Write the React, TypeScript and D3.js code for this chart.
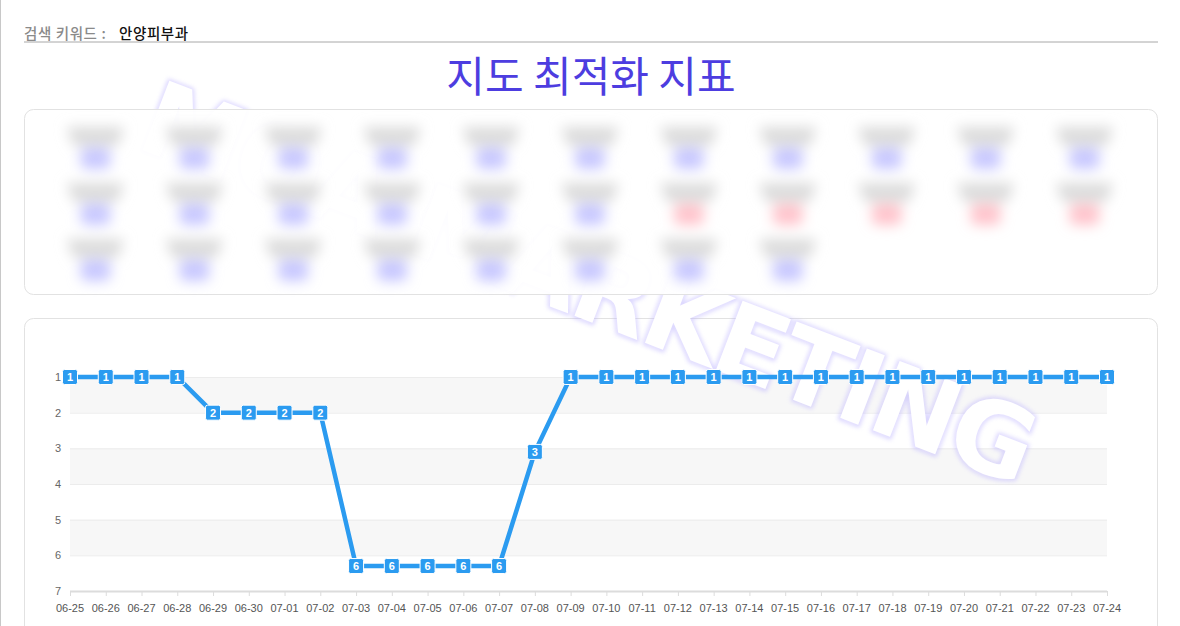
import React from 'react';
import * as d3 from 'd3';

const dates = [
  '06-25', '06-26', '06-27', '06-28', '06-29', '06-30', '07-01', '07-02', '07-03', '07-04',
  '07-05', '07-06', '07-07', '07-08', '07-09', '07-10', '07-11', '07-12', '07-13', '07-14',
  '07-15', '07-16', '07-17', '07-18', '07-19', '07-20', '07-21', '07-22', '07-23', '07-24',
];
const rankValues = [
  1, 1, 1, 1, 2, 2, 2, 2, 6.3, 6.3,
  6.3, 6.3, 6.3, 3.1, 1, 1, 1, 1, 1, 1,
  1, 1, 1, 1, 1, 1, 1, 1, 1, 1,
];
const rankLabels = [
  1, 1, 1, 1, 2, 2, 2, 2, 6, 6,
  6, 6, 6, 3, 1, 1, 1, 1, 1, 1,
  1, 1, 1, 1, 1, 1, 1, 1, 1, 1,
];
const yTicks = [1, 2, 3, 4, 5, 6, 7];
const summaryRows = [
  ['up', 'up', 'up', 'up', 'up', 'up', 'up', 'up', 'up', 'up', 'up'],
  ['up', 'up', 'up', 'up', 'up', 'up', 'down', 'down', 'down', 'down', 'down'],
  ['up', 'up', 'up', 'up', 'up', 'up', 'up', 'up'],
];
const keywordLabel = '검색 키워드 :';
const keyword = '안양피부과';
const title = '지도 최적화 지표';
const watermark = 'MOA MARKETING';

const W = 1180;
const H = 626;
const plot = { left: 70, right: 1107, top: 377, bottom: 591 };
const lineColor = '#2b9bf0';

export default function App() {
  const x = d3.scalePoint<string>().domain(dates).range([plot.left, plot.right]);
  const y = d3.scaleLinear().domain([1, 7]).range([plot.top, plot.bottom]);
  const line = d3
    .line<number>()
    .x((_, i) => x(dates[i]) as number)
    .y((d) => y(d));

  const col = d3
    .scaleBand<number>()
    .domain(d3.range(11))
    .range([46, 1134]);
  const rowY = d3.scalePoint<number>().domain([0, 1, 2]).range([127, 239]);

  const bands = yTicks.slice(0, -1).filter((_, i) => i % 2 === 0);

  return (
    <div style={{ position: 'absolute', left: 0, top: 0, width: W, height: H, overflow: 'hidden' }}>
      <svg width={W} height={H} style={{ display: 'block' }}>
        <defs>
          <filter id="blurItem" x="-50%" y="-50%" width="200%" height="200%">
            <feGaussianBlur stdDeviation="6.5" />
          </filter>
          <filter id="wmGlow" x="-10%" y="-30%" width="120%" height="160%">
            <feGaussianBlur stdDeviation="2" />
          </filter>
        </defs>
        <rect x={0} y={0} width={W} height={H} fill="#fff" />
        <line x1={0.5} y1={0} x2={0.5} y2={H} stroke="#c8c8c8" />

        {/* header */}
        <text x={24} y={39} fontFamily="'Noto Sans CJK KR', sans-serif" fontSize={14.5} letterSpacing={0.6} fill="#8a8a8a" fontWeight={500}>
          {keywordLabel}
        </text>
        <text x={119} y={39} fontFamily="'Noto Sans CJK KR', sans-serif" fontSize={14.5} letterSpacing={0.6} fill="#111" fontWeight={500}>
          {keyword}
        </text>
        <line x1={24} y1={42} x2={1158} y2={42} stroke="#a8a8a8" strokeWidth={1} />

        <text
          x={591}
          y={92}
          textAnchor="middle"
          fontFamily="'Noto Sans CJK KR', sans-serif"
          fontSize={42}
          fill="#4d3de0"
        >
          {title}
        </text>

        {/* chart card */}
        <rect x={24.5} y={318.5} width={1133} height={340} rx={9} fill="#fff" stroke="#e2e2e2" />
        {bands.map((b) => (
          <rect key={b} x={plot.left} y={y(b)} width={plot.right - plot.left} height={y(b + 1) - y(b)} fill="#f7f7f7" />
        ))}
        {yTicks.slice(0, -1).map((t) => (
          <line key={t} x1={plot.left} x2={plot.right} y1={y(t) + 0.5} y2={y(t) + 0.5} stroke="#ececec" />
        ))}

        {/* watermark */}
        <g transform="translate(588,283) rotate(21)">
          <text
            textAnchor="middle"
            dominantBaseline="central"
            fontFamily="'DejaVu Sans', sans-serif"
            fontWeight="bold"
            fontSize={102}
            letterSpacing={-3}
            fill="none"
            stroke="#b8aeff"
            strokeWidth={4}
            filter="url(#wmGlow)"
            opacity={0.55}
          >
            {watermark}
          </text>
          <text
            textAnchor="middle"
            dominantBaseline="central"
            fontFamily="'DejaVu Sans', sans-serif"
            fontWeight="bold"
            fontSize={102}
            letterSpacing={-3}
            fill="#fff"
          >
            {watermark}
          </text>
        </g>

        {/* summary card */}
        <rect x={24.5} y={109.5} width={1133} height={185} rx={9} fill="#fff" fillOpacity={0.93} stroke="#e2e2e2" />
        <g filter="url(#blurItem)">
          {summaryRows.map((row, r) =>
            row.map((s, c) => {
              const cx = (col(c) as number) + col.bandwidth() / 2;
              const ty = rowY(r) as number;
              return (
                <g key={`${r}-${c}`}>
                  <path
                    d={`M${cx - 29},${ty} L${cx + 29},${ty} L${cx + 22},${ty + 19} L${cx - 22},${ty + 19} Z`}
                    fill="#dcdcdc"
                  />
                  <rect x={cx - 15} y={ty + 21} width={30} height={21} rx={6} fill={s === 'up' ? '#c8c8ff' : '#ffc4cc'} />
                </g>
              );
            })
          )}
        </g>

        {/* axes */}
        {yTicks.map((t) => (
          <text
            key={t}
            x={61}
            y={y(t) + 4}
            textAnchor="end"
            fontFamily="'Liberation Sans', Arial, sans-serif"
            fontSize={11}
            fill="#666"
          >
            {t}
          </text>
        ))}
        <line x1={plot.left} x2={plot.right} y1={plot.bottom + 0.5} y2={plot.bottom + 0.5} stroke="#dcdcdc" strokeWidth={2} />
        {dates.map((d) => (
          <g key={d}>
            <line x1={(x(d) as number) + 0.5} x2={(x(d) as number) + 0.5} y1={plot.bottom} y2={plot.bottom + 5} stroke="#dcdcdc" />
            <text
              x={x(d) as number}
              y={612}
              textAnchor="middle"
              fontFamily="'Liberation Sans', Arial, sans-serif"
              fontSize={11}
              fill="#555"
            >
              {d}
            </text>
          </g>
        ))}

        {/* series */}
        <path d={line(rankValues) || ''} fill="none" stroke={lineColor} strokeWidth={4.5} strokeLinejoin="round" />
        {rankValues.map((v, i) => {
          const cx = x(dates[i]) as number;
          const cy = y(v);
          return (
            <g key={i}>
              <rect x={cx - 7.5} y={cy - 7.5} width={15} height={15} rx={2} fill={lineColor} stroke="#fff" strokeWidth={1} />
              <text
                x={cx}
                y={cy + 4}
                textAnchor="middle"
                fontFamily="'Liberation Sans', Arial, sans-serif"
                fontWeight="bold"
                fontSize={11}
                fill="#fff"
              >
                {rankLabels[i]}
              </text>
            </g>
          );
        })}
      </svg>
    </div>
  );
}
